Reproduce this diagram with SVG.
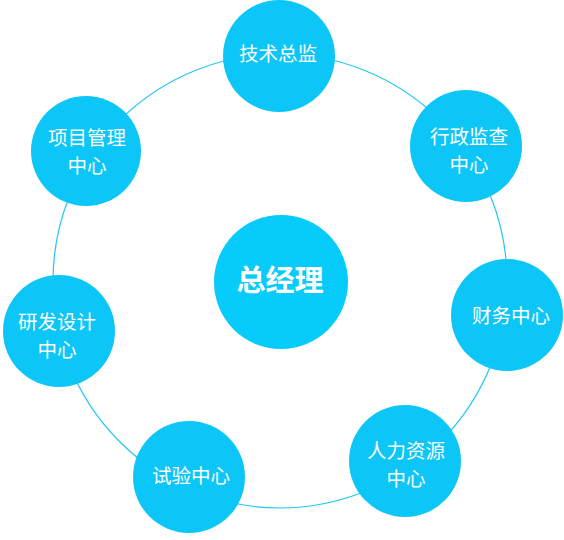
<svg xmlns="http://www.w3.org/2000/svg" width="564" height="540" viewBox="0 0 564 540">
<style>
.ring{fill:none;stroke:#22c6f4;stroke-width:1.2}
.node{fill:#0bc6f7}
.hub{fill:#06cbfb}
.t{fill:#fff;font-family:"Noto Sans CJK SC","Noto Sans",sans-serif;font-size:19.5px;text-anchor:middle;font-weight:400}
.c{fill:#fff;font-family:"Noto Sans CJK SC","Noto Sans",sans-serif;font-size:29px;text-anchor:middle;font-weight:700}
</style>
<rect width="564" height="540" fill="#fff"/>
<g id="connectors">
<circle class="ring" cx="280" cy="281" r="227"/>
</g>
<g id="n-center"><circle class="hub" cx="281" cy="282" r="67"/><text class="c" x="280" y="291">总经理</text></g>
<g id="n-tech"><circle class="node" cx="279" cy="56" r="56"/><text class="t" x="278" y="61">技术总监</text></g>
<g id="n-admin"><circle class="node" cx="466" cy="146" r="56"/><text class="t" x="469" y="144">行政监查</text><text class="t" x="469" y="172">中心</text></g>
<g id="n-finance"><circle class="node" cx="507" cy="315" r="56"/><text class="t" x="511" y="323">财务中心</text></g>
<g id="n-hr"><circle class="node" cx="405" cy="461" r="56"/><text class="t" x="406" y="458">人力资源</text><text class="t" x="406" y="486">中心</text></g>
<g id="n-test"><circle class="node" cx="189" cy="477" r="56"/><text class="t" x="191" y="483">试验中心</text></g>
<g id="n-rd"><circle class="node" cx="59" cy="331" r="56"/><text class="t" x="57" y="329">研发设计</text><text class="t" x="57" y="357">中心</text></g>
<g id="n-pm"><circle class="node" cx="86" cy="151" r="55"/><text class="t" x="87" y="145">项目管理</text><text class="t" x="87" y="173">中心</text></g>
</svg>
